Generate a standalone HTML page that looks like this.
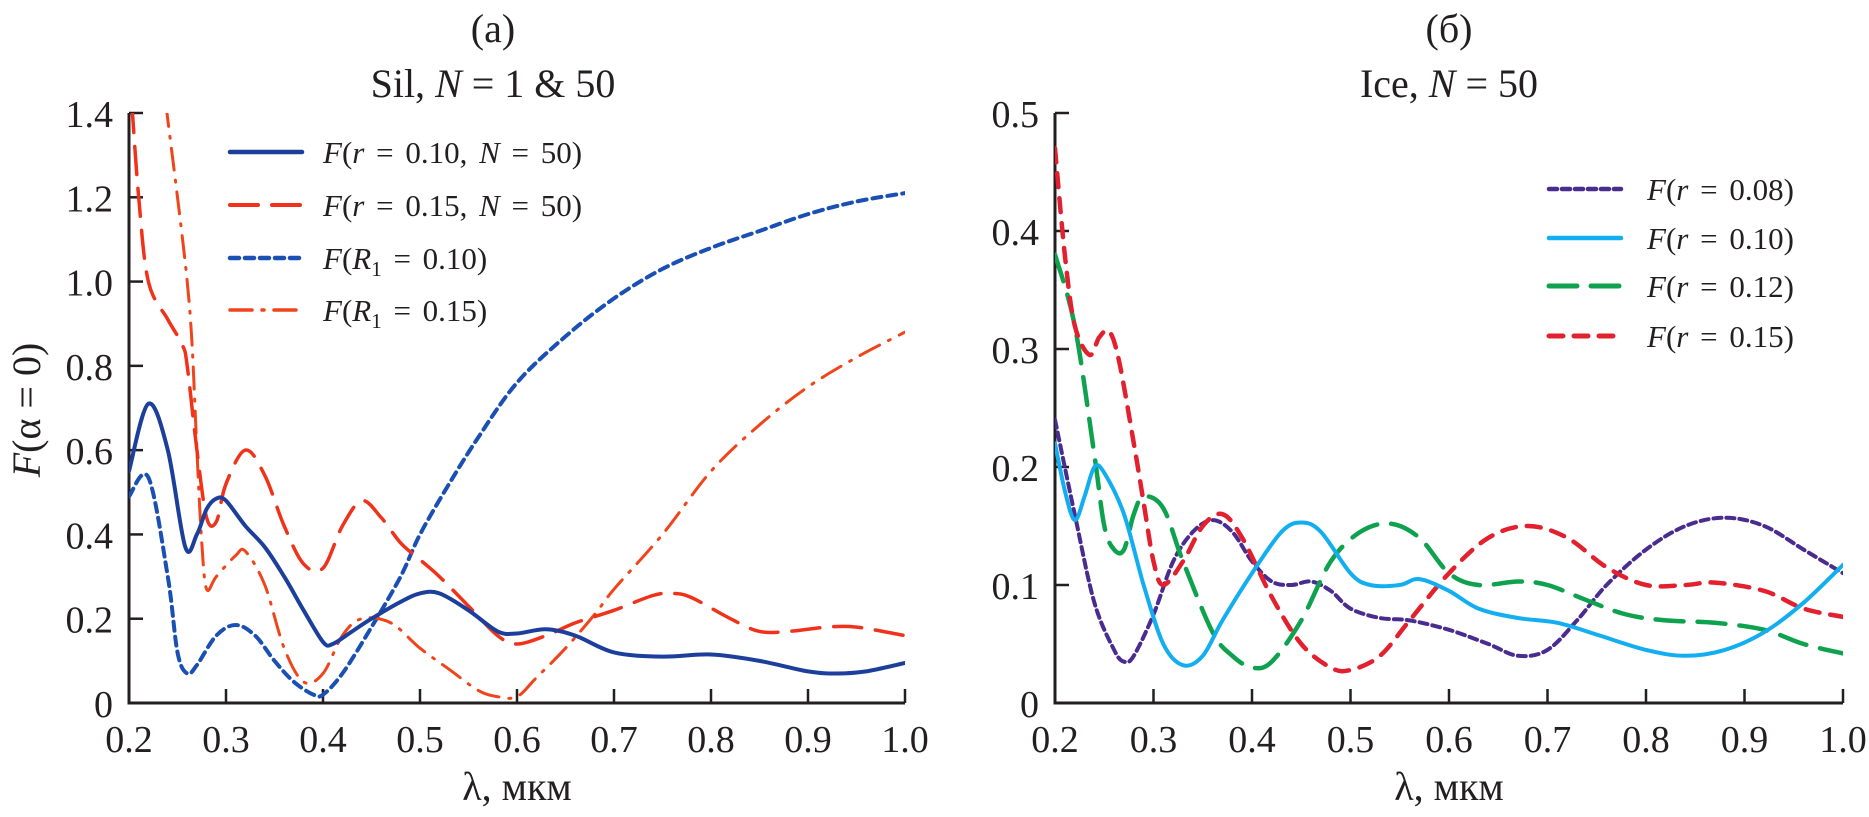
<!DOCTYPE html>
<html><head><meta charset="utf-8"><style>
html,body{margin:0;padding:0;background:#fff}
svg text{font-family:"Liberation Serif",serif;fill:#231f20}
</style></head><body>
<svg id="chart" width="1869" height="812" viewBox="0 0 1869 812" xmlns="http://www.w3.org/2000/svg">
<defs>
<clipPath id="clipA"><rect x="129" y="113" width="776" height="590"/></clipPath>
<clipPath id="clipB"><rect x="1055" y="113" width="788" height="590"/></clipPath>
</defs>
<text x="493" y="42" font-size="40" text-anchor="middle">(a)</text>
<text x="493" y="97" font-size="40" text-anchor="middle">Sil, <tspan font-style="italic">N</tspan> = 1 &amp; 50</text>
<text x="1449" y="42" font-size="40" text-anchor="middle">(б)</text>
<text x="1449" y="97" font-size="40" text-anchor="middle">Ice, <tspan font-style="italic">N</tspan> = 50</text>
<text x="517" y="800" font-size="40" text-anchor="middle">λ, мкм</text>
<text x="1449" y="800" font-size="40" text-anchor="middle">λ, мкм</text>
<text transform="translate(40,410) rotate(-90)" font-size="40" text-anchor="middle"><tspan font-style="italic">F</tspan>(α = 0)</text>
<g id="axA"></g><g id="axB"></g>
<g id="seriesA" clip-path="url(#clipA)"></g>
<g id="seriesB" clip-path="url(#clipB)"></g>
<g id="legA"></g><g id="legB"></g>
</svg>
<script>
const xTicks = [0.2,0.3,0.4,0.5,0.6,0.7,0.8,0.9,1.0];
const xTickLabels = ["0.2","0.3","0.4","0.5","0.6","0.7","0.8","0.9","1.0"];
const yTicksA = [0,0.2,0.4,0.6,0.8,1.0,1.2,1.4];
const yTickLabelsA = ["0","0.2","0.4","0.6","0.8","1.0","1.2","1.4"];
const yTicksB = [0,0.1,0.2,0.3,0.4,0.5];
const yTickLabelsB = ["0","0.1","0.2","0.3","0.4","0.5"];

const a1x = [0.2,0.22,0.24,0.258,0.27,0.28,0.29,0.30,0.32,0.34,0.36,0.38,0.40,0.41,0.43,0.45,0.48,0.50,0.52,0.55,0.58,0.60,0.63,0.66,0.70,0.75,0.80,0.85,0.90,0.93,0.96,1.0];
const a1y = [0.55,0.71,0.60,0.37,0.40,0.46,0.485,0.48,0.42,0.37,0.30,0.22,0.145,0.14,0.17,0.20,0.24,0.26,0.26,0.22,0.17,0.165,0.175,0.16,0.12,0.11,0.115,0.10,0.075,0.07,0.075,0.095];
const a2x = [0.203,0.21,0.22,0.24,0.255,0.26,0.27,0.28,0.29,0.30,0.32,0.34,0.36,0.38,0.40,0.42,0.44,0.46,0.48,0.50,0.52,0.55,0.58,0.60,0.63,0.66,0.70,0.74,0.76,0.78,0.82,0.85,0.88,0.92,0.95,1.0];
const a2y = [1.42,1.2,1.0,0.91,0.85,0.80,0.60,0.44,0.43,0.52,0.60,0.54,0.42,0.33,0.32,0.42,0.48,0.44,0.38,0.34,0.30,0.23,0.16,0.14,0.16,0.19,0.22,0.255,0.26,0.25,0.20,0.17,0.17,0.18,0.18,0.16];
const a3x = [0.2,0.22,0.24,0.25,0.26,0.27,0.29,0.31,0.33,0.35,0.37,0.39,0.40,0.42,0.45,0.48,0.50,0.53,0.56,0.60,0.65,0.70,0.75,0.80,0.85,0.90,0.95,1.0];
const a3y = [0.49,0.535,0.30,0.12,0.07,0.09,0.16,0.185,0.16,0.10,0.05,0.02,0.02,0.07,0.18,0.30,0.40,0.52,0.63,0.76,0.87,0.96,1.03,1.08,1.12,1.16,1.19,1.21];
const a4x = [0.238,0.25,0.26,0.265,0.27,0.275,0.28,0.29,0.31,0.32,0.34,0.36,0.38,0.40,0.42,0.44,0.47,0.50,0.53,0.56,0.58,0.60,0.62,0.65,0.68,0.70,0.75,0.80,0.85,0.90,0.95,1.0];
const a4y = [1.42,1.2,1.0,0.85,0.6,0.38,0.27,0.30,0.35,0.36,0.28,0.13,0.05,0.07,0.16,0.20,0.19,0.13,0.08,0.03,0.015,0.015,0.06,0.13,0.21,0.27,0.40,0.55,0.66,0.75,0.82,0.88];

const b1x = [0.2,0.22,0.24,0.26,0.27,0.28,0.30,0.32,0.34,0.36,0.38,0.40,0.42,0.44,0.46,0.48,0.50,0.53,0.56,0.60,0.64,0.67,0.70,0.73,0.76,0.80,0.84,0.88,0.92,0.96,1.0];
const b1y = [0.24,0.16,0.085,0.045,0.035,0.04,0.075,0.12,0.145,0.155,0.145,0.12,0.103,0.10,0.103,0.095,0.08,0.072,0.07,0.062,0.05,0.04,0.045,0.07,0.10,0.13,0.15,0.157,0.15,0.13,0.11];
const b2x = [0.2,0.21,0.22,0.23,0.24,0.25,0.27,0.29,0.31,0.33,0.35,0.37,0.40,0.43,0.45,0.47,0.50,0.52,0.55,0.57,0.60,0.63,0.67,0.71,0.75,0.80,0.84,0.88,0.92,0.96,1.0];
const b2y = [0.22,0.18,0.155,0.175,0.20,0.195,0.16,0.10,0.05,0.032,0.04,0.07,0.11,0.145,0.153,0.145,0.11,0.10,0.10,0.105,0.095,0.08,0.072,0.068,0.058,0.045,0.04,0.045,0.06,0.085,0.117];
const b3x = [0.2,0.22,0.24,0.25,0.26,0.27,0.28,0.29,0.31,0.33,0.36,0.38,0.40,0.42,0.45,0.48,0.51,0.54,0.57,0.60,0.63,0.67,0.70,0.74,0.78,0.82,0.87,0.92,0.96,1.0];
const b3y = [0.38,0.32,0.21,0.15,0.13,0.13,0.16,0.175,0.165,0.12,0.06,0.04,0.03,0.035,0.07,0.12,0.145,0.152,0.14,0.11,0.10,0.103,0.10,0.087,0.075,0.07,0.068,0.062,0.05,0.042];
const b4x = [0.2,0.21,0.22,0.235,0.245,0.255,0.265,0.28,0.29,0.30,0.31,0.33,0.35,0.37,0.39,0.42,0.45,0.48,0.50,0.53,0.56,0.60,0.64,0.68,0.72,0.76,0.80,0.84,0.87,0.92,0.96,1.0];
const b4y = [0.47,0.38,0.32,0.295,0.31,0.315,0.29,0.22,0.17,0.12,0.10,0.12,0.15,0.16,0.14,0.09,0.05,0.03,0.028,0.04,0.07,0.11,0.14,0.15,0.14,0.115,0.10,0.10,0.102,0.095,0.08,0.073];

const NS="http://www.w3.org/2000/svg";
function mk(tag, attrs, parent){const e=document.createElementNS(NS,tag);for(const k in attrs)e.setAttribute(k,attrs[k]);parent.appendChild(e);return e;}
const Y0=703, YT=113;
const sxA=v=>129+(v-0.2)/0.8*776, syA=v=>Y0-v/1.4*(Y0-YT);
const sxB=v=>1055+(v-0.2)/0.8*788, syB=v=>Y0-v/0.5*(Y0-YT);

function smooth(pts){
  let d="M"+pts[0][0].toFixed(1)+","+pts[0][1].toFixed(1);
  for(let i=0;i<pts.length-1;i++){
    const p0=pts[i-1]||pts[i],p1=pts[i],p2=pts[i+1],p3=pts[i+2]||p2;
    const c1=[p1[0]+(p2[0]-p0[0])/6,p1[1]+(p2[1]-p0[1])/6];
    const c2=[p2[0]-(p3[0]-p1[0])/6,p2[1]-(p3[1]-p1[1])/6];
    d+=" C"+c1.map(v=>v.toFixed(1)).join(",")+" "+c2.map(v=>v.toFixed(1)).join(",")+" "+p2[0].toFixed(1)+","+p2[1].toFixed(1);
  }
  return d;
}

function axes(g, sx, sy, yt, ytl, x0, x1, pfx){
  const ax=mk('path',{d:`M${x0},${YT} V${Y0} H${x1}`,fill:'none',stroke:'#231f20','stroke-width':3},g);
  
  
  xTicks.forEach((v,i)=>{
    const x=sx(v);
    if(i>0){const t=mk('line',{x1:x,x2:x,y1:Y0,y2:Y0-14,stroke:'#231f20','stroke-width':2.5},g);
      
      }
    const l=mk('text',{x:x,y:752,'font-size':38,'text-anchor':'middle'},g);
    l.textContent=xTickLabels[i];
    
    
  });
  yt.forEach((v,i)=>{
    const y=sy(v);
    if(i>0){const t=mk('line',{x1:x0,x2:x0+14,y1:y,y2:y,stroke:'#231f20','stroke-width':2.5},g);
      
      }
    const l=mk('text',{x:x0-16,y:y+14,'font-size':38,'text-anchor':'end'},g);
    l.textContent=ytl[i];
    
    
  });
}
axes(document.getElementById('axA'),sxA,syA,yTicksA,yTickLabelsA,129,905,'panel-a');
axes(document.getElementById('axB'),sxB,syB,yTicksB,yTickLabelsB,1055,1843,'panel-b');

function series(g,xs,ys,sx,sy,style,name){
  const p=mk('path',{d:smooth(xs.map((x,i)=>[sx(x),sy(ys[i])])),fill:'none',stroke:style.c,'stroke-width':style.w,'stroke-linecap':'round','stroke-dasharray':style.d||'none'},g);
  
  
}
const stA=[{c:'#1d3f9c',w:4},{c:'#f0321a',w:3.5,d:'28 14'},{c:'#1a4fb4',w:4,d:'9 6'},{c:'#f0441a',w:3,d:'22 10 2 10'}];
const stB=[{c:'#4a2c90',w:4,d:'8 5'},{c:'#12aef0',w:4},{c:'#0fa24e',w:4.5,d:'28 14'},{c:'#e2202e',w:4.5,d:'14 11'}];
const gA=document.getElementById('seriesA'), gB=document.getElementById('seriesB');
series(gA,a3x,a3y,sxA,syA,stA[2],'series-R1-0.10');
series(gA,a4x,a4y,sxA,syA,stA[3],'series-R1-0.15');
series(gA,a2x,a2y,sxA,syA,stA[1],'series-r-0.15-N50');
series(gA,a1x,a1y,sxA,syA,stA[0],'series-r-0.10-N50');
series(gB,b1x,b1y,sxB,syB,stB[0],'series-r-0.08');
series(gB,b3x,b3y,sxB,syB,stB[2],'series-r-0.12');
series(gB,b4x,b4y,sxB,syB,stB[3],'series-r-0.15');
series(gB,b2x,b2y,sxB,syB,stB[1],'series-r-0.10');

const legA=[
 '<tspan font-style="italic">F</tspan>(<tspan font-style="italic">r</tspan> = 0.10, <tspan font-style="italic">N</tspan> = 50)',
 '<tspan font-style="italic">F</tspan>(<tspan font-style="italic">r</tspan> = 0.15, <tspan font-style="italic">N</tspan> = 50)',
 '<tspan font-style="italic">F</tspan>(<tspan font-style="italic">R</tspan><tspan font-size="21" dy="7">1</tspan><tspan dy="-7"> = 0.10)</tspan>',
 '<tspan font-style="italic">F</tspan>(<tspan font-style="italic">R</tspan><tspan font-size="21" dy="7">1</tspan><tspan dy="-7"> = 0.15)</tspan>'];
const legB=['0.08','0.10','0.12','0.15'].map(v=>'<tspan font-style="italic">F</tspan>(<tspan font-style="italic">r</tspan> = '+v+')');
function legend(g,labels,styles,lx0,lx1,tx,ys,pfx){
  labels.forEach((lab,i)=>{
    const ln=mk('line',{x1:lx0,x2:lx1,y1:ys[i],y2:ys[i],stroke:styles[i].c,'stroke-width':styles[i].w+0.5,'stroke-linecap':'round','stroke-dasharray':styles[i].d||'none'},g);
    
    
    const t=mk('text',{x:tx,y:ys[i]+11,'font-size':31,'word-spacing':4},g);
    t.innerHTML=lab;
    
    
  });
}
legend(document.getElementById('legA'),legA,stA,230,302,323,[152,205,258,310],'panel-a');
legend(document.getElementById('legB'),legB,stB,1549,1621,1647,[189,238,286,336],'panel-b');
</script>
</body></html>
